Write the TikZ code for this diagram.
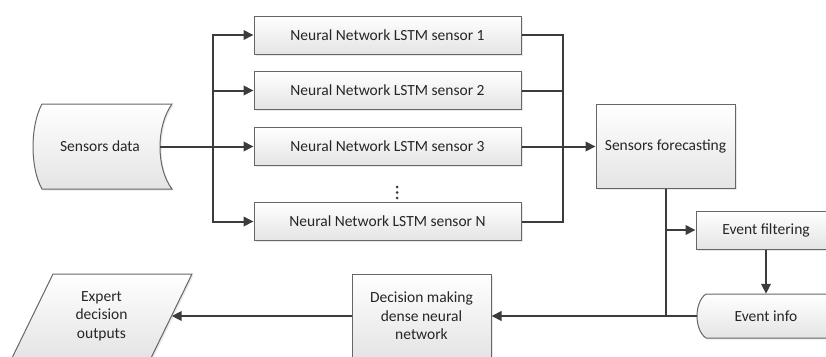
\documentclass[tikz,border=0pt]{standalone}
\usepackage{fontspec}
\setmainfont{Carlito}
\usetikzlibrary{arrows.meta,shadows}
\definecolor{linec}{HTML}{3C3C3C}
\definecolor{borderc}{HTML}{666666}
\definecolor{textc}{HTML}{262626}
\definecolor{botc}{HTML}{E4E4E4}
\tikzset{
  shapefill/.style={draw=borderc, line width=1pt, top color=white, bottom color=botc,
    drop shadow={opacity=0.18, shadow xshift=1.5pt, shadow yshift=-1.5pt}},
  box/.style={shapefill, rectangle, inner sep=2pt, align=center, text=textc},
  ghost/.style={inner sep=0pt, align=center, text=textc},
  conn/.style={draw=linec, line width=2pt},
  arr/.style={conn, -{Triangle[length=10pt,width=9.5pt]}},
}
\begin{document}
\begin{tikzpicture}[x=1pt,y=-1pt,font=\fontsize{15.5}{18.5}\selectfont]
\useasboundingbox (0,0) rectangle (826,356);
\clip (0,0) rectangle (826,356);

% Sensors data shape
\path[shapefill] (42,104) -- (172,104) .. controls (156,126) and (156,168) .. (172,189)
  -- (42,189) .. controls (30,168) and (30,126) .. (42,104) -- cycle;
\node[ghost, minimum width=120pt, minimum height=85pt] (sd) at (100,146.5) {Sensors data};

% LSTM boxes
\node[box, minimum width=267pt, minimum height=38pt] (l1) at (387.5,35) {Neural Network LSTM sensor 1};
\node[box, minimum width=267pt, minimum height=38pt] (l2) at (387.5,90.5) {Neural Network LSTM sensor 2};
\node[box, minimum width=267pt, minimum height=38pt] (l3) at (387.5,146.5) {Neural Network LSTM sensor 3};
\node[box, minimum width=267pt, minimum height=38pt] (lN) at (387.5,221.5) {Neural Network LSTM sensor N};
\fill[linec] (397,187) circle (1.5) (397,192.5) circle (1.5) (397,198) circle (1.5);

% Sensors forecasting
\node[box, minimum width=139pt, minimum height=84pt] (sf) at (665.5,146.5) {Sensors forecasting};

% Event filtering
\node[box, minimum width=140pt, minimum height=38pt] (ef) at (766,230) {Event filtering};

% Event info shape
\path[shapefill] (706,294) -- (840,294) .. controls (828,302) and (828,330) .. (840,338)
  -- (706,338) .. controls (694,330) and (694,302) .. (706,294) -- cycle;
\node[ghost, minimum width=138pt, minimum height=44pt] (ei) at (766,316) {Event info};

% Decision making
\node[box, minimum width=139pt, minimum height=84pt] (dm) at (421.5,316) {Decision making\\dense neural\\network};

% Expert decision outputs
\path[shapefill] (53,274) -- (192,274) -- (151,358) -- (12,358) -- cycle;
\node[ghost, minimum width=140pt, minimum height=84pt] (eo) at (101.5,316) {Expert\\decision\\outputs};

% connectors
\coordinate (bus) at (213,146.5);
\coordinate (rbus) at (563,146.5);
\coordinate (j1) at (665.5,230);
\draw[arr] (sd.east) -- (bus) |- (l1.west);
\draw[arr] (sd.east) -- (bus) |- (l2.west);
\draw[arr] (sd.east) -- (l3.west);
\draw[arr] (sd.east) -- (bus) |- (lN.west);

\draw[conn] (l1.east) -| (rbus);
\draw[conn] (l2.east) -| (rbus);
\draw[conn] (lN.east) -| (rbus);
\draw[arr] (l3.east) -- (sf.west);

\draw[conn] (sf.south) -- (sf.south |- ei.west);
\draw[arr] (j1) -- (ef.west);
\draw[arr] (ef.south) -- (ei.north);
\draw[arr] (ei.west) -- (dm.east);
\draw[arr] (dm.west) -- (eo.east);
\end{tikzpicture}
\end{document}
